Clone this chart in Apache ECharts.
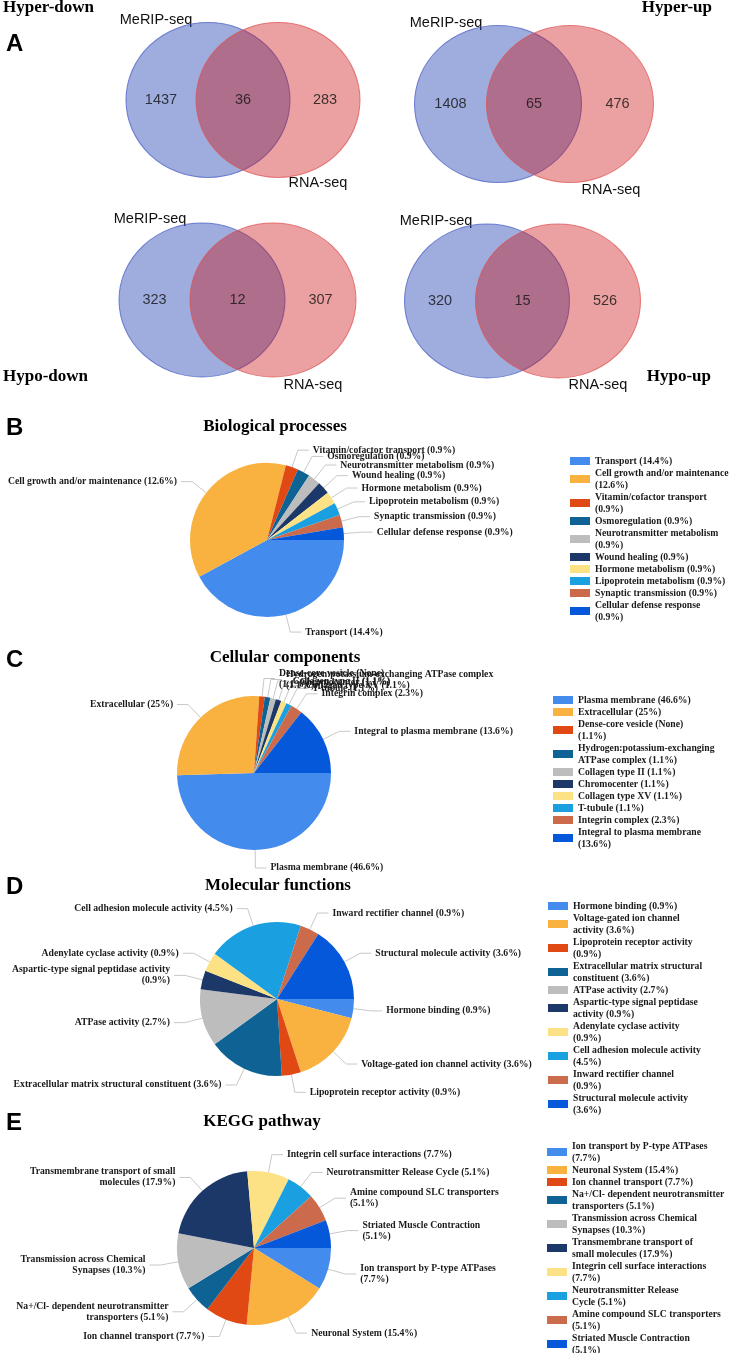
<!DOCTYPE html>
<html>
<head>
<meta charset="utf-8">
<title>Venn + GO/KEGG pies</title>
<script src="https://cdn.jsdelivr.net/npm/echarts@6.0.0/dist/echarts.min.js"></script>
<style>body{margin:0;padding:0;background:#fff}</style>
</head>
<body>
<div id="fig" style="width:738px;height:1353px"></div>
<script>
// ---- venn data
var vennPanels = ['Hyper-down', 'Hyper-up', 'Hypo-down', 'Hypo-up'];
var vennSets = ['MeRIP-seq', 'RNA-seq'];
var merOnly = [1437, 1408, 323, 320];
var bothSets = [36, 65, 12, 15];
var rnaOnly = [283, 476, 307, 526];

// ---- B biological processes
var bpNames = ['Transport', 'Cell growth and/or maintenance', 'Vitamin/cofactor transport', 'Osmoregulation',
  'Neurotransmitter metabolism', 'Wound healing', 'Hormone metabolism', 'Lipoprotein metabolism',
  'Synaptic transmission', 'Cellular defense response'];
var bpValues = [14.4, 12.6, 0.9, 0.9, 0.9, 0.9, 0.9, 0.9, 0.9, 0.9];
var bpLabels = ['Transport (14.4%)', 'Cell growth and/or maintenance (12.6%)', 'Vitamin/cofactor transport (0.9%)',
  'Osmoregulation (0.9%)', 'Neurotransmitter metabolism (0.9%)', 'Wound healing (0.9%)', 'Hormone metabolism (0.9%)',
  'Lipoprotein metabolism (0.9%)', 'Synaptic transmission (0.9%)', 'Cellular defense response (0.9%)'];
var bpLegend = ['Transport (14.4%)', 'Cell growth and/or maintenance\n(12.6%)', 'Vitamin/cofactor transport\n(0.9%)',
  'Osmoregulation (0.9%)', 'Neurotransmitter metabolism\n(0.9%)', 'Wound healing (0.9%)', 'Hormone metabolism (0.9%)',
  'Lipoprotein metabolism (0.9%)', 'Synaptic transmission (0.9%)', 'Cellular defense response\n(0.9%)'];

// ---- C cellular components
var ccNames = ['Plasma membrane', 'Extracellular', 'Dense-core vesicle (None)', 'Hydrogen:potassium-exchanging ATPase complex',
  'Collagen type II', 'Chromocenter', 'Collagen type XV', 'T-tubule', 'Integrin complex', 'Integral to plasma membrane'];
var ccValues = [46.6, 25, 1.1, 1.1, 1.1, 1.1, 1.1, 1.1, 2.3, 13.6];
var ccLabels = ['Plasma membrane (46.6%)', 'Extracellular (25%)', 'Dense-core vesicle (None)\n(1.1%)',
  'Hydrogen:potassium-exchanging ATPase complex\n(1.1%)', 'Collagen type II (1.1%)', 'Chromocenter (1.1%)',
  'Collagen type XV (1.1%)', 'T-tubule (1.1%)', 'Integrin complex (2.3%)', 'Integral to plasma membrane (13.6%)'];
var ccLegend = ['Plasma membrane (46.6%)', 'Extracellular (25%)', 'Dense-core vesicle (None)\n(1.1%)',
  'Hydrogen:potassium-exchanging\nATPase complex (1.1%)', 'Collagen type II (1.1%)', 'Chromocenter (1.1%)',
  'Collagen type XV (1.1%)', 'T-tubule (1.1%)', 'Integrin complex (2.3%)', 'Integral to plasma membrane\n(13.6%)'];

// ---- D molecular functions
var mfNames = ['Hormone binding', 'Voltage-gated ion channel activity', 'Lipoprotein receptor activity',
  'Extracellular matrix structural constituent', 'ATPase activity', 'Aspartic-type signal peptidase activity',
  'Adenylate cyclase activity', 'Cell adhesion molecule activity', 'Inward rectifier channel', 'Structural molecule activity'];
var mfValues = [0.9, 3.6, 0.9, 3.6, 2.7, 0.9, 0.9, 4.5, 0.9, 3.6];
var mfLabels = ['Hormone binding (0.9%)', 'Voltage-gated ion channel activity (3.6%)', 'Lipoprotein receptor activity (0.9%)',
  'Extracellular matrix structural constituent (3.6%)', 'ATPase activity (2.7%)', 'Aspartic-type signal peptidase activity\n(0.9%)',
  'Adenylate cyclase activity (0.9%)', 'Cell adhesion molecule activity (4.5%)', 'Inward rectifier channel (0.9%)',
  'Structural molecule activity (3.6%)'];
var mfLegend = ['Hormone binding (0.9%)', 'Voltage-gated ion channel\nactivity (3.6%)', 'Lipoprotein receptor activity\n(0.9%)',
  'Extracellular matrix structural\nconstituent (3.6%)', 'ATPase activity (2.7%)', 'Aspartic-type signal peptidase\nactivity (0.9%)',
  'Adenylate cyclase activity\n(0.9%)', 'Cell adhesion molecule activity\n(4.5%)', 'Inward rectifier channel\n(0.9%)',
  'Structural molecule activity\n(3.6%)'];

// ---- E KEGG
var keggNames = ['Ion transport by P-type ATPases', 'Neuronal System', 'Ion channel transport',
  'Na+/Cl- dependent neurotransmitter transporters', 'Transmission across Chemical Synapses',
  'Transmembrane transport of small molecules', 'Integrin cell surface interactions', 'Neurotransmitter Release Cycle',
  'Amine compound SLC transporters', 'Striated Muscle Contraction'];
var keggValues = [7.7, 15.4, 7.7, 5.1, 10.3, 17.9, 7.7, 5.1, 5.1, 5.1];
var keggLabels = ['Ion transport by P-type ATPases\n(7.7%)', 'Neuronal System (15.4%)', 'Ion channel transport (7.7%)',
  'Na+/Cl- dependent neurotransmitter\ntransporters (5.1%)', 'Transmission across Chemical\nSynapses (10.3%)',
  'Transmembrane transport of small\nmolecules (17.9%)', 'Integrin cell surface interactions (7.7%)',
  'Neurotransmitter Release Cycle (5.1%)', 'Amine compound SLC transporters\n(5.1%)', 'Striated Muscle Contraction\n(5.1%)'];
var keggLegend = ['Ion transport by P-type ATPases\n(7.7%)', 'Neuronal System (15.4%)', 'Ion channel transport (7.7%)',
  'Na+/Cl- dependent neurotransmitter\ntransporters (5.1%)', 'Transmission across Chemical\nSynapses (10.3%)',
  'Transmembrane transport of\nsmall molecules (17.9%)', 'Integrin cell surface interactions\n(7.7%)',
  'Neurotransmitter Release\nCycle (5.1%)', 'Amine compound SLC transporters\n(5.1%)', 'Striated Muscle Contraction\n(5.1%)'];

var palette = ['#438BEC', '#F9B13F', '#E04814', '#0F6394', '#BDBDBD', '#1C3869', '#FDE185', '#1A9FE0', '#CB6B4C', '#0558D9'];
var SERIF = '"Liberation Serif", "Times New Roman", serif';
var SANS = '"Liberation Sans", Arial, sans-serif';

// layout of the venn panels (pixel grid)
var vennLayout = [
  { blue: [208, 100], red: [278, 100], size: [164, 155], mer: [156, 20], rna: [318, 183], title: [3, 8, 'left'] },
  { blue: [498, 104], red: [570, 104], size: [167, 157], mer: [446, 23], rna: [611, 190], title: [712, 8, 'right'] },
  { blue: [202, 300], red: [273, 300], size: [166, 154], mer: [150, 219], rna: [313, 385], title: [3, 377, 'left'] },
  { blue: [487, 301], red: [558, 301], size: [165, 154], mer: [436, 221], rna: [598, 385], title: [711, 377, 'right'] }
];

var chart = echarts.init(document.getElementById('fig'));

var ellipses = [], counts = [], graphics = [];
vennLayout.forEach(function (L, i) {
  ellipses.push({ value: L.blue, symbolSize: L.size,
    itemStyle: { color: 'rgba(16,48,172,0.5)', borderColor: 'rgba(70,90,195,0.9)', borderWidth: 1 } });
  ellipses.push({ value: L.red, symbolSize: L.size,
    itemStyle: { color: 'rgba(204,14,14,0.485)', borderColor: 'rgba(222,80,80,0.9)', borderWidth: 1 } });
  var mid = (L.blue[0] + L.red[0]) / 2, half = L.size[0] / 2, cy = L.blue[1];
  counts.push({ value: [mid - half, cy, merOnly[i]] });
  counts.push({ value: [mid, cy, bothSets[i]] });
  counts.push({ value: [mid + half, cy, rnaOnly[i]] });
  graphics.push({ type: 'text', x: L.mer[0], y: L.mer[1], style: { text: vennSets[0], fontFamily: SANS, fontSize: 14.5, fill: '#111', align: 'center', verticalAlign: 'middle' } });
  graphics.push({ type: 'text', x: L.rna[0], y: L.rna[1], style: { text: vennSets[1], fontFamily: SANS, fontSize: 14.5, fill: '#111', align: 'center', verticalAlign: 'middle' } });
  graphics.push({ type: 'text', x: L.title[0], y: L.title[1], style: { text: vennPanels[i], fontFamily: SERIF, fontWeight: 'bold', fontSize: 17, fill: '#000', align: L.title[2], verticalAlign: 'middle' } });
});

// panel letters and pie titles
[['A', 44], ['B', 428], ['C', 660], ['D', 887], ['E', 1123]].forEach(function (p) {
  graphics.push({ type: 'text', x: 6, y: p[1], style: { text: p[0], fontFamily: SANS, fontWeight: 'bold', fontSize: 24, fill: '#000', verticalAlign: 'middle' } });
});
[['Biological processes', 275, 427], ['Cellular components', 285, 658], ['Molecular functions', 278, 886], ['KEGG pathway', 262, 1122]].forEach(function (t) {
  graphics.push({ type: 'text', x: t[1], y: t[2], style: { text: t[0], fontFamily: SERIF, fontWeight: 'bold', fontSize: 17, fill: '#000', align: 'center', verticalAlign: 'middle' } });
});

function pieSeries(names, values, labels, center) {
  return {
    type: 'pie', radius: 77, center: center, startAngle: 0, clockwise: true,
    avoidLabelOverlap: false, silent: true,
    labelLayout: { hideOverlap: false },
    data: names.map(function (n, i) { return { name: n, value: values[i] }; }),
    label: {
      formatter: function (p) { return labels[p.dataIndex]; },
      fontFamily: SERIF, fontWeight: 'bold', fontSize: 9.7, lineHeight: 11, color: '#1a1a1a',
      distanceToLabelLine: 4
    },
    labelLine: { length: 18, length2: 11, lineStyle: { color: '#c8c8c8', width: 1 } },
    itemStyle: { borderWidth: 0 }
  };
}

function pieLegend(names, texts, left, top) {
  return {
    orient: 'vertical', left: left, top: top, height: 400, padding: 0, itemGap: 0,
    itemWidth: 20, itemHeight: 8, icon: 'rect', selectedMode: false, data: names,
    formatter: function (n) { return texts[names.indexOf(n)]; },
    textStyle: { fontFamily: SERIF, fontWeight: 'bold', fontSize: 9.7, lineHeight: 12, color: '#1a1a1a' }
  };
}

chart.setOption({
  animation: false,
  color: palette,
  grid: { left: 0, top: 0, width: 738, height: 1353 },
  xAxis: { type: 'value', min: 0, max: 738, show: false },
  yAxis: { type: 'value', min: 0, max: 1353, inverse: true, show: false },
  legend: [
    pieLegend(bpNames, bpLegend, 570, 455),
    pieLegend(ccNames, ccLegend, 553, 694),
    pieLegend(mfNames, mfLegend, 548, 900),
    pieLegend(keggNames, keggLegend, 547, 1140)
  ],
  graphic: graphics,
  series: [
    { type: 'scatter', symbol: 'circle', data: ellipses, silent: true, z: 1 },
    { type: 'scatter', symbolSize: 1, data: counts, silent: true, z: 2,
      itemStyle: { color: 'rgba(0,0,0,0)' },
      label: { show: true, position: 'inside', formatter: function (p) { return p.value[2]; },
        fontFamily: SANS, fontSize: 14.5, color: '#111' } },
    pieSeries(bpNames, bpValues, bpLabels, [267, 540]),
    pieSeries(ccNames, ccValues, ccLabels, [254, 773]),
    pieSeries(mfNames, mfValues, mfLabels, [277, 999]),
    pieSeries(keggNames, keggValues, keggLabels, [254, 1248])
  ]
});
</script>
</body>
</html>
